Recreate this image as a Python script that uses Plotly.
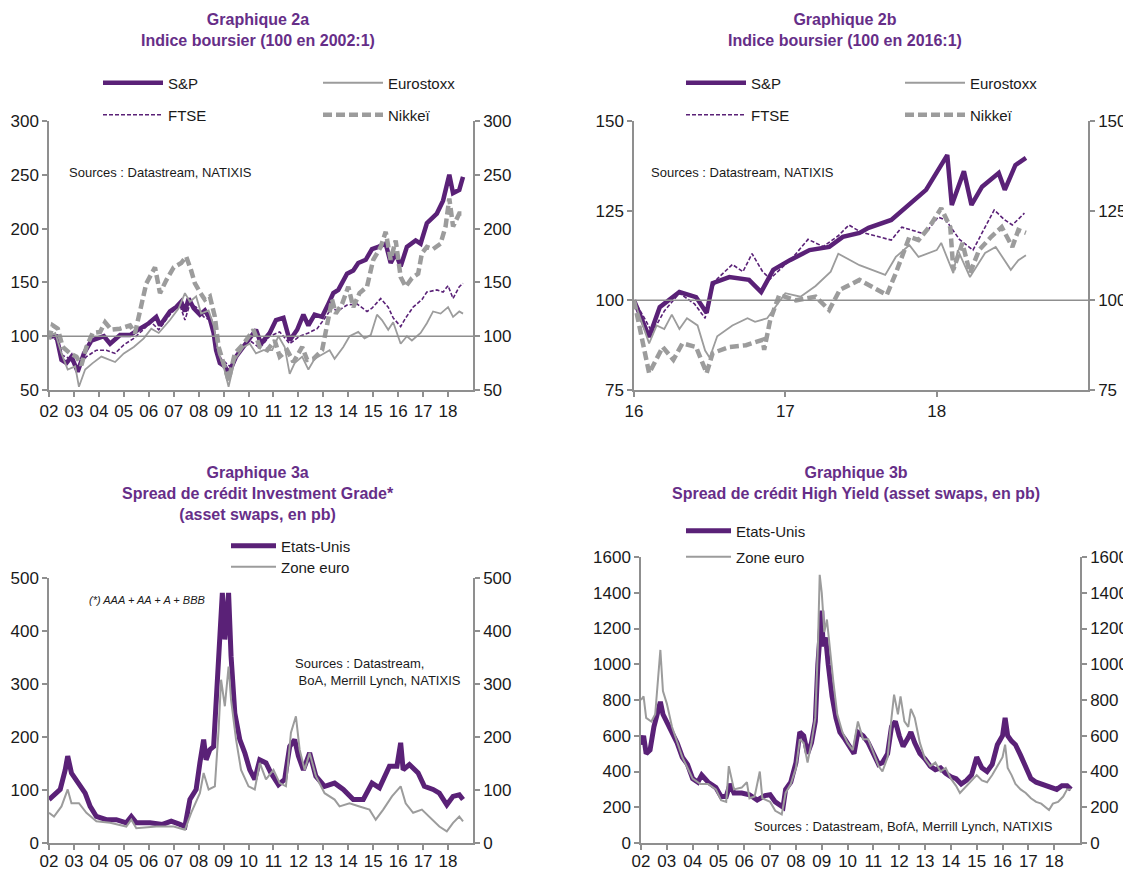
import plotly.graph_objects as go

# ---------------- DATA ----------------
# Graphique 2a : indices boursiers (100 en 2002:1), x in fractional years
SP_2A_T = [2002.0, 2002.3, 2002.5, 2002.7, 2002.9, 2003.15, 2003.4, 2003.7, 2004.2, 2004.45, 2004.85,
           2005.25, 2005.65, 2006.0, 2006.3, 2006.45, 2006.85, 2007.1, 2007.3, 2007.45, 2007.6, 2007.8,
           2008.05, 2008.25, 2008.45, 2008.6, 2008.7, 2008.85, 2009.05, 2009.2, 2009.5, 2009.8, 2010.1,
           2010.3, 2010.5, 2010.85, 2011.1, 2011.4, 2011.65, 2011.95, 2012.2, 2012.4, 2012.65, 2012.95,
           2013.2, 2013.4, 2013.6, 2013.95, 2014.2, 2014.4, 2014.7, 2014.95, 2015.2, 2015.5, 2015.7,
           2015.9, 2016.1, 2016.35, 2016.7, 2016.9, 2017.15, 2017.55, 2017.8, 2018.05, 2018.2, 2018.45, 2018.6]
SP_2A = [100, 100, 78, 75, 81, 67, 84, 96, 100, 93, 101,
         101, 107, 112, 118, 110, 123, 127, 132, 123, 135, 126,
         120, 124, 116, 103, 87, 75, 72, 65, 81, 90, 100,
         106, 93, 103, 115, 117, 96, 106, 120, 110, 120, 118,
         130, 140, 143, 158, 161, 168, 171, 181, 183, 186, 168,
         177, 165, 183, 189, 186, 205, 214, 226, 250, 233, 236, 248]

FTSE_2A_T = [2002.0, 2002.35, 2002.55, 2002.85, 2003.15, 2003.5, 2003.9, 2004.3, 2004.65, 2005.0, 2005.4,
             2005.8, 2006.1, 2006.4, 2006.85, 2007.25, 2007.45, 2007.65, 2007.9, 2008.2, 2008.45, 2008.7,
             2008.9, 2009.25, 2009.65, 2010.05, 2010.45, 2010.85, 2011.25, 2011.65, 2012.05, 2012.4,
             2012.75, 2013.1, 2013.35, 2013.55, 2013.95, 2014.35, 2014.75, 2014.95, 2015.3, 2015.6,
             2015.8, 2016.1, 2016.3, 2016.6, 2016.95, 2017.15, 2017.55, 2017.8, 2018.0, 2018.2, 2018.45, 2018.6]
FTSE_2A = [100, 96, 82, 79, 69, 81, 87, 87, 84, 92, 98,
           107, 113, 106, 120, 129, 115, 130, 127, 118, 115, 90,
           79, 72, 87, 96, 89, 100, 104, 93, 100, 103,
           107, 118, 127, 123, 129, 130, 123, 126, 135, 127,
           117, 109, 117, 127, 134, 141, 143, 141, 147, 135, 146, 149]

ESTX_2A_T = [2002.0, 2002.25, 2002.5, 2002.75, 2003.05, 2003.2, 2003.45, 2003.75, 2004.1, 2004.35, 2004.65,
             2005.0, 2005.4, 2005.8, 2006.1, 2006.4, 2006.85, 2007.2, 2007.45, 2007.65, 2007.9, 2008.1,
             2008.4, 2008.6, 2008.8, 2009.0, 2009.2, 2009.45, 2009.8, 2010.05, 2010.3, 2010.6, 2010.95,
             2011.2, 2011.45, 2011.65, 2011.85, 2012.15, 2012.4, 2012.65, 2013.0, 2013.25, 2013.45,
             2013.8, 2014.05, 2014.4, 2014.65, 2014.9, 2015.15, 2015.35, 2015.6, 2015.8, 2016.1, 2016.35,
             2016.55, 2016.9, 2017.15, 2017.4, 2017.7, 2018.0, 2018.2, 2018.45, 2018.6]
ESTX_2A = [100, 103, 84, 69, 72, 53, 69, 75, 81, 79, 76,
           84, 90, 98, 107, 103, 115, 126, 140, 132, 137, 121,
           124, 110, 84, 72, 53, 78, 90, 93, 84, 87, 87,
           100, 90, 65, 75, 81, 69, 79, 84, 87, 79,
           90, 100, 104, 98, 101, 120, 115, 106, 113, 93, 100,
           96, 103, 112, 123, 121, 127, 118, 123, 121]

NIK_2A_T = [2002.0, 2002.15, 2002.35, 2002.55, 2002.85, 2003.1, 2003.3, 2003.5, 2003.75, 2004.05, 2004.25,
            2004.5, 2004.85, 2005.25, 2005.45, 2005.7, 2005.9, 2006.25, 2006.45, 2006.7, 2007.0, 2007.3,
            2007.5, 2007.7, 2007.85, 2008.05, 2008.25, 2008.45, 2008.65, 2008.8, 2009.0, 2009.2, 2009.45,
            2009.8, 2010.2, 2010.45, 2010.75, 2011.05, 2011.25, 2011.55, 2011.8, 2012.15, 2012.35, 2012.6,
            2012.95, 2013.15, 2013.35, 2013.5, 2013.75, 2014.0, 2014.2, 2014.45, 2014.75, 2015.0, 2015.3,
            2015.5, 2015.7, 2015.9, 2016.1, 2016.3, 2016.55, 2016.8, 2016.95, 2017.15, 2017.4, 2017.7,
            2017.9, 2018.05, 2018.2, 2018.45, 2018.6]
NIK_2A = [97, 110, 107, 90, 84, 81, 73, 90, 103, 104, 113,
          106, 107, 110, 103, 129, 149, 164, 140, 152, 164, 168,
          174, 161, 149, 141, 134, 137, 118, 90, 75, 59, 84,
          93, 106, 90, 87, 96, 81, 87, 76, 90, 78, 79,
          87, 109, 134, 121, 130, 146, 127, 140, 146, 171, 183,
          197, 171, 189, 155, 146, 154, 158, 177, 183, 181, 186,
          202, 228, 202, 214, 214]

# Graphique 2b : indices boursiers (100 en 2016:1)
SP_2B_T = [2016.0, 2016.07, 2016.1, 2016.17, 2016.3, 2016.41, 2016.48, 2016.52, 2016.63, 2016.76, 2016.84,
           2016.92, 2017.03, 2017.16, 2017.29, 2017.38, 2017.49, 2017.55, 2017.7, 2017.93, 2018.0, 2018.07,
           2018.1, 2018.18, 2018.23, 2018.3, 2018.41, 2018.45, 2018.52, 2018.59]
SP_2B = [100, 92.6, 89.8, 98.1, 102.3, 100.9, 96.5, 104.8, 106.5, 105.7, 102.3,
         108.5, 111.2, 114.0, 114.9, 117.7, 118.8, 120.2, 122.4, 130.8, 135.5, 140.5,
         126.6, 136.0, 126.6, 131.7, 135.5, 130.8, 137.7, 139.7]

FTSE_2B_T = [2016.0, 2016.07, 2016.12, 2016.2, 2016.3, 2016.4, 2016.47, 2016.5, 2016.55, 2016.65, 2016.72,
             2016.78, 2016.85, 2016.9, 2017.0, 2017.05, 2017.15, 2017.25, 2017.35, 2017.42, 2017.5, 2017.6,
             2017.7, 2017.77, 2017.84, 2017.92, 2018.01, 2018.06, 2018.15, 2018.24, 2018.32, 2018.38,
             2018.45, 2018.5, 2018.58]
FTSE_2B = [100, 95, 91, 97, 102, 99, 95, 102, 106, 110, 108,
           113, 108, 106, 110, 112, 117, 115, 118, 121, 119, 118,
           116.8, 120.4, 119.6, 118.5, 123.2, 122.4, 117, 114, 120.4, 125.2,
           122.4, 121, 124.3]

ESTX_2B_T = [2016.0, 2016.05, 2016.1, 2016.15, 2016.2, 2016.25, 2016.3, 2016.35, 2016.42, 2016.47, 2016.5,
             2016.55, 2016.65, 2016.75, 2016.8, 2016.88, 2016.95, 2017.0, 2017.1, 2017.2, 2017.3, 2017.35,
             2017.49, 2017.66, 2017.73, 2017.82, 2017.88, 2018.0, 2018.03, 2018.11, 2018.14, 2018.22,
             2018.32, 2018.39, 2018.49, 2018.54, 2018.59]
ESTX_2B = [100, 94, 88, 93, 92, 96, 92, 95, 93, 86, 84,
           90, 93, 95, 94, 95, 99, 102, 101, 104, 108, 113,
           109.8, 107.1, 112.1, 115.4, 112.1, 114, 116, 107.6, 114, 106.5,
           113.2, 114.9, 108.5, 111.2, 112.6]

NIK_2B_T = [2016.0, 2016.1, 2016.19, 2016.26, 2016.32, 2016.41, 2016.48, 2016.52, 2016.63, 2016.74, 2016.85,
            2016.86, 2016.9, 2016.96, 2017.07, 2017.2, 2017.29, 2017.36, 2017.49, 2017.57, 2017.67, 2017.73,
            2017.82, 2017.88, 2017.95, 2018.03, 2018.09, 2018.11, 2018.17, 2018.22, 2018.28, 2018.36,
            2018.43, 2018.5, 2018.54, 2018.59]
NIK_2B = [100, 79.7, 87, 83.4, 88, 87, 79.7, 85.3, 87, 87.5, 89,
          86.2, 94.5, 101.5, 100, 101, 97.3, 102.9, 105.7, 103.8, 101.5, 107.6,
          117.7, 116.8, 120.4, 125.7, 120.4, 108.5, 116, 107.6, 114, 117.7,
          120.4, 114.9, 119.6, 118.8]

# Graphique 3a : spread Investment Grade (pb)
IG_US_T = [2002.0, 2002.25, 2002.45, 2002.65, 2002.75, 2002.9, 2003.15, 2003.45, 2003.65, 2003.9, 2004.3,
           2004.7, 2005.1, 2005.3, 2005.5, 2006.05, 2006.55, 2006.9, 2007.25, 2007.45, 2007.65, 2007.9,
           2008.05, 2008.2, 2008.3, 2008.45, 2008.6, 2008.7, 2008.85, 2008.95, 2009.05, 2009.2, 2009.3,
           2009.45, 2009.65, 2009.85, 2010.05, 2010.25, 2010.45, 2010.7, 2010.9, 2011.2, 2011.45, 2011.65,
           2011.85, 2012.0, 2012.2, 2012.45, 2012.7, 2013.05, 2013.45, 2013.8, 2014.2, 2014.6, 2014.95,
           2015.25, 2015.65, 2015.95, 2016.1, 2016.2, 2016.45, 2016.8, 2017.05, 2017.4, 2017.65, 2017.95,
           2018.2, 2018.45, 2018.6]
IG_US = [82, 94, 101, 138, 164, 132, 113, 94, 69, 50, 44,
         44, 38, 50, 38, 38, 35, 41, 35, 31, 82, 101,
         151, 195, 157, 176, 182, 258, 409, 472, 384, 472, 352,
         245, 195, 170, 138, 120, 157, 151, 132, 110, 120, 182,
         195, 164, 138, 170, 126, 107, 113, 101, 82, 82, 113,
         104, 145, 145, 189, 138, 148, 132, 107, 101, 94, 72,
         88, 91, 82]

IG_EU_T = [2002.0, 2002.2, 2002.5, 2002.75, 2002.9, 2003.2, 2003.5, 2003.9, 2004.45, 2005.1, 2005.3,
           2005.5, 2006.3, 2007.0, 2007.45, 2007.7, 2008.05, 2008.2, 2008.4, 2008.65, 2008.8, 2008.9,
           2009.05, 2009.2, 2009.3, 2009.5, 2009.7, 2010.0, 2010.25, 2010.45, 2010.7, 2011.0, 2011.25,
           2011.5, 2011.7, 2011.9, 2012.05, 2012.25, 2012.45, 2012.7, 2013.05, 2013.45, 2013.65, 2014.05,
           2014.45, 2014.85, 2015.1, 2015.4, 2015.75, 2016.1, 2016.3, 2016.6, 2016.95, 2017.25, 2017.65,
           2017.95, 2018.2, 2018.45, 2018.6]
IG_EU = [57, 50, 69, 101, 75, 75, 57, 41, 38, 31, 44,
         28, 31, 31, 25, 57, 94, 132, 101, 107, 214, 308,
         258, 333, 270, 195, 138, 107, 101, 151, 120, 138, 113,
         107, 208, 239, 176, 138, 170, 126, 94, 82, 69, 75,
         69, 63, 44, 63, 88, 107, 75, 57, 63, 50, 31,
         22, 38, 50, 41]

# Graphique 3b : spread High Yield (pb)
HY_US_T = [2002.0, 2002.1, 2002.2, 2002.35, 2002.5, 2002.65, 2002.75, 2002.85, 2003.0, 2003.2, 2003.4,
           2003.6, 2003.8, 2004.0, 2004.2, 2004.35, 2004.6, 2004.9, 2005.1, 2005.3, 2005.45, 2005.6,
           2005.9, 2006.2, 2006.5, 2006.8, 2007.0, 2007.2, 2007.4, 2007.5, 2007.6, 2007.8, 2008.0,
           2008.15, 2008.3, 2008.45, 2008.6, 2008.75, 2008.85, 2008.95, 2009.0, 2009.05, 2009.15, 2009.25,
           2009.4, 2009.55, 2009.7, 2009.9, 2010.1, 2010.25, 2010.4, 2010.6, 2010.8, 2011.0, 2011.2,
           2011.35, 2011.55, 2011.7, 2011.85, 2012.0, 2012.15, 2012.35, 2012.45, 2012.6, 2012.8, 2013.0,
           2013.2, 2013.4, 2013.6, 2013.8, 2014.0, 2014.2, 2014.4, 2014.6, 2014.8, 2015.0, 2015.2,
           2015.4, 2015.6, 2015.8, 2016.0, 2016.1, 2016.2, 2016.35, 2016.5, 2016.7, 2016.9, 2017.1,
           2017.3, 2017.5, 2017.7, 2017.9, 2018.1, 2018.3, 2018.5, 2018.65]
HY_US = [550, 600, 500, 520, 650, 720, 790, 720, 680, 620, 560,
         480, 440, 360, 340, 380, 340, 310, 260, 260, 330, 280,
         280, 270, 240, 265, 270, 230, 210, 200, 300, 340, 450,
         620, 600, 500, 560, 680, 1000, 1200, 1300, 1100, 1150, 1000,
         820, 700, 620, 580, 530, 500, 620, 600, 560, 500, 440,
         450, 500, 650, 680, 600, 540, 590, 620, 560, 500, 470,
         430, 410, 420, 390, 370, 360, 330, 350, 380, 480, 420,
         400, 440, 550, 600, 700, 600, 570, 550, 490, 420, 360,
         340, 330, 320, 310, 300, 320, 320, 300]

HY_EU_T = [2002.0, 2002.1, 2002.2, 2002.4, 2002.55, 2002.65, 2002.75, 2002.85, 2003.0, 2003.2, 2003.4,
           2003.6, 2003.8, 2004.0, 2004.3, 2004.6, 2004.9, 2005.1, 2005.3, 2005.4, 2005.6, 2005.9,
           2006.1, 2006.2, 2006.4, 2006.6, 2006.7, 2007.0, 2007.2, 2007.45, 2007.6, 2007.8, 2008.0,
           2008.15, 2008.3, 2008.45, 2008.6, 2008.75, 2008.85, 2008.92, 2009.0, 2009.1, 2009.2, 2009.3,
           2009.45, 2009.6, 2009.8, 2010.0, 2010.2, 2010.4, 2010.6, 2010.8, 2011.0, 2011.2, 2011.35,
           2011.55, 2011.7, 2011.8, 2011.95, 2012.05, 2012.2, 2012.35, 2012.45, 2012.6, 2012.8, 2013.0,
           2013.2, 2013.4, 2013.6, 2013.8, 2014.0, 2014.2, 2014.35, 2014.6, 2014.8, 2015.0, 2015.2,
           2015.4, 2015.6, 2015.8, 2016.0, 2016.1, 2016.2, 2016.35, 2016.5, 2016.7, 2016.9, 2017.1,
           2017.3, 2017.5, 2017.7, 2017.8, 2017.95, 2018.15, 2018.35, 2018.5, 2018.65]
HY_EU = [800, 820, 700, 680, 720, 900, 1080, 850, 780, 650, 560,
         480, 420, 360, 330, 330, 300, 240, 230, 430, 300, 310,
         340, 250, 260, 400, 250, 230, 180, 160, 280, 330, 420,
         580, 560, 450, 560, 700, 1100, 1500, 1400, 1180, 1250, 1100,
         900, 720, 620, 560, 520, 680, 580, 580, 510, 430, 400,
         480, 700, 830, 720, 820, 680, 650, 750, 700, 560, 470,
         430, 450, 400, 420, 360, 320, 280, 320, 350, 380, 350,
         340, 380, 430, 480, 550, 420, 380, 330, 300, 280, 250,
         230, 220, 200, 185, 220, 230, 260, 300, 300]

YEAR_TICKS = list(range(2002, 2019))
YEAR_LABELS = [f"{y % 100:02d}" for y in YEAR_TICKS]
YEAR_TICKS_2B = [2016, 2017, 2018]
YEAR_LABELS_2B = ["16", "17", "18"]
BASE_INDEX = 100

# ---------------- STYLE ----------------
PAGE_OFF = 8            # default body margin of the html page
W, H = 1131 - PAGE_OFF, 870 - PAGE_OFF
PURPLE = "#5A2177"
GREY = "#9C9C9C"
TITLE_C = "#662E88"
AXIS_C = "#8F8F8F"
TXT = "#1A1A1A"
FONT = "Liberation Sans, Arial, sans-serif"


def fx(p):
    return (p - PAGE_OFF) / W


def fy(p):
    return 1 - (p - PAGE_OFF) / H


fig = go.Figure()

# panel geometry in screen pixels: (left, right), (top, bottom)
PANELS = {
    1: dict(px=(49, 473), py=(121, 390), xr=[2002, 2019], yr=[50, 300], dt=50,
            tv=YEAR_TICKS, tt=YEAR_LABELS, so=0),
    2: dict(px=(634, 1088), py=(121, 390), xr=[2016, 2019], yr=[75, 150], dt=25,
            tv=YEAR_TICKS_2B, tt=YEAR_LABELS_2B, so=0),
    3: dict(px=(49, 473), py=(578, 843), xr=[2002, 2019], yr=[0, 500], dt=100,
            tv=YEAR_TICKS, tt=YEAR_LABELS, so=-3),
    4: dict(px=(641, 1080), py=(557, 843), xr=[2002, 2019], yr=[0, 1600], dt=200,
            tv=YEAR_TICKS, tt=YEAR_LABELS, so=-3),
}

axis_common = dict(showgrid=False, zeroline=False, showline=True, linecolor=AXIS_C, linewidth=1.5,
                   ticks="outside", ticklen=5, tickwidth=1.5, tickcolor=AXIS_C,
                   tickfont=dict(family=FONT, size=17, color=TXT), automargin=False, fixedrange=True)

layout = {}
for i, p in PANELS.items():
    xs = "" if i == 1 else str(i)
    layout[f"xaxis{xs}"] = dict(domain=[fx(p["px"][0]), fx(p["px"][1])], range=p["xr"],
                                anchor=f"y{xs}", tickmode="array", tickvals=p["tv"], ticktext=p["tt"],
                                ticklabelstandoff=p["so"], **axis_common)
    layout[f"yaxis{xs}"] = dict(domain=[fy(p["py"][1]), fy(p["py"][0])], range=p["yr"],
                                anchor=f"x{xs}", dtick=p["dt"], tick0=0, **axis_common)
    layout[f"yaxis{i + 4}"] = dict(range=p["yr"], overlaying=f"y{xs}", side="right", anchor=f"x{xs}",
                                   dtick=p["dt"], tick0=0, **axis_common)


def add(x, y, name, color, width, dash, xa, ya, legend):
    fig.add_trace(go.Scatter(x=x, y=y, name=name, mode="lines",
                             line=dict(color=color, width=width, dash=dash),
                             xaxis=xa, yaxis=ya, legend=legend, hoverinfo="skip"))


def mirror(x, y, xa, ya):
    # invisible copy so that the right-hand (mirror) axis gets drawn
    fig.add_trace(go.Scatter(x=x, y=y, mode="lines", line=dict(width=0), opacity=0,
                             xaxis=xa, yaxis=ya, showlegend=False, hoverinfo="skip"))


FTSE_DASH = "4px,2px"
NIK_DASH = "9px,4px"

# Panel 2a
add(SP_2A_T, SP_2A, "S&P", PURPLE, 4.5, "solid", "x", "y", "legend")
add(FTSE_2A_T, FTSE_2A, "FTSE", PURPLE, 1.6, FTSE_DASH, "x", "y", "legend3")
add(ESTX_2A_T, ESTX_2A, "Eurostoxx", GREY, 1.8, "solid", "x", "y", "legend2")
add(NIK_2A_T, NIK_2A, "Nikkeï", GREY, 4.5, NIK_DASH, "x", "y", "legend4")
mirror(SP_2A_T, SP_2A, "x", "y5")
# Panel 2b
add(SP_2B_T, SP_2B, "S&P", PURPLE, 4.5, "solid", "x2", "y2", "legend5")
add(FTSE_2B_T, FTSE_2B, "FTSE", PURPLE, 1.6, FTSE_DASH, "x2", "y2", "legend7")
add(ESTX_2B_T, ESTX_2B, "Eurostoxx", GREY, 1.8, "solid", "x2", "y2", "legend6")
add(NIK_2B_T, NIK_2B, "Nikkeï", GREY, 4.5, NIK_DASH, "x2", "y2", "legend8")
mirror(SP_2B_T, SP_2B, "x2", "y6")
# Panel 3a
add(IG_US_T, IG_US, "Etats-Unis", PURPLE, 5, "solid", "x3", "y3", "legend9")
add(IG_EU_T, IG_EU, "Zone euro", GREY, 2, "solid", "x3", "y3", "legend10")
mirror(IG_US_T, IG_US, "x3", "y7")
# Panel 3b
add(HY_US_T, HY_US, "Etats-Unis", PURPLE, 5, "solid", "x4", "y4", "legend11")
add(HY_EU_T, HY_EU, "Zone euro", GREY, 2, "solid", "x4", "y4", "legend12")
mirror(HY_US_T, HY_US, "x4", "y8")

# legends: (sample-left px, center-y px, item width)
LEG_POS = {
    "legend": (105, 83, 60), "legend2": (325, 83, 60), "legend3": (105, 115, 60), "legend4": (325, 115, 60),
    "legend5": (688, 83, 60), "legend6": (907, 83, 60), "legend7": (688, 115, 60), "legend8": (907, 115, 60),
    "legend9": (233, 546, 45), "legend10": (233, 567, 45), "legend11": (688, 531, 45),
    "legend12": (688, 557, 45),
}
for lg, (lx, ly, iw) in LEG_POS.items():
    layout[lg] = dict(x=fx(lx - 7), y=fy(ly), xanchor="left", yanchor="middle", xref="paper", yref="paper",
                      bgcolor="rgba(0,0,0,0)", borderwidth=0, itemwidth=iw,
                      font=dict(family=FONT, size=15, color=TXT))

shapes = []
for xs in ("", "2"):
    shapes.append(dict(type="line", xref=f"x{xs} domain", yref=f"y{xs}", x0=0, x1=1,
                       y0=BASE_INDEX, y1=BASE_INDEX, line=dict(color=AXIS_C, width=1.5)))

title_font = dict(family=FONT, size=16, color=TITLE_C)
ann = [
    dict(text="<b>Graphique 2a<br>Indice boursier (100 en 2002:1)</b>", x=fx(258), y=fy(30)),
    dict(text="<b>Graphique 2b<br>Indice boursier (100 en 2016:1)</b>", x=fx(845), y=fy(30)),
    dict(text="<b>Graphique 3a<br>Spread de crédit Investment Grade*<br>(asset swaps, en pb)</b>",
         x=fx(258), y=fy(493)),
    dict(text="<b>Graphique 3b<br>Spread de crédit High Yield (asset swaps, en pb)</b>",
         x=fx(856), y=fy(483)),
]
annotations = []
for a in ann:
    annotations.append(dict(a, xref="paper", yref="paper", xanchor="center", yanchor="middle",
                            showarrow=False, font=title_font, align="center"))

for text, x, y, size, it in [
    ("Sources : Datastream, NATIXIS", 67, 172, 13, False),
    ("Sources : Datastream, NATIXIS", 649, 172, 13, False),
    ("(*) AAA + AA + A + BBB", 87, 600, 11, True),
    ("Sources : Datastream,<br>\u00a0BoA, Merrill Lynch, NATIXIS", 293, 672, 13, False),
    ("Sources : Datastream, BofA, Merrill Lynch, NATIXIS", 752, 826, 13, False),
]:
    annotations.append(dict(text=f"<i>{text}</i>" if it else text, x=fx(x), y=fy(y), xref="paper",
                            yref="paper", xanchor="left", yanchor="middle", showarrow=False,
                            align="left", font=dict(family=FONT, size=size, color=TXT)))

fig.update_layout(width=W, height=H, margin=dict(l=0, r=0, t=0, b=0), template="none",
                  paper_bgcolor="white", plot_bgcolor="rgba(0,0,0,0)", showlegend=True,
                  font=dict(family=FONT, color=TXT), shapes=shapes, annotations=annotations,
                  **layout)

fig.write_html("out.html")
